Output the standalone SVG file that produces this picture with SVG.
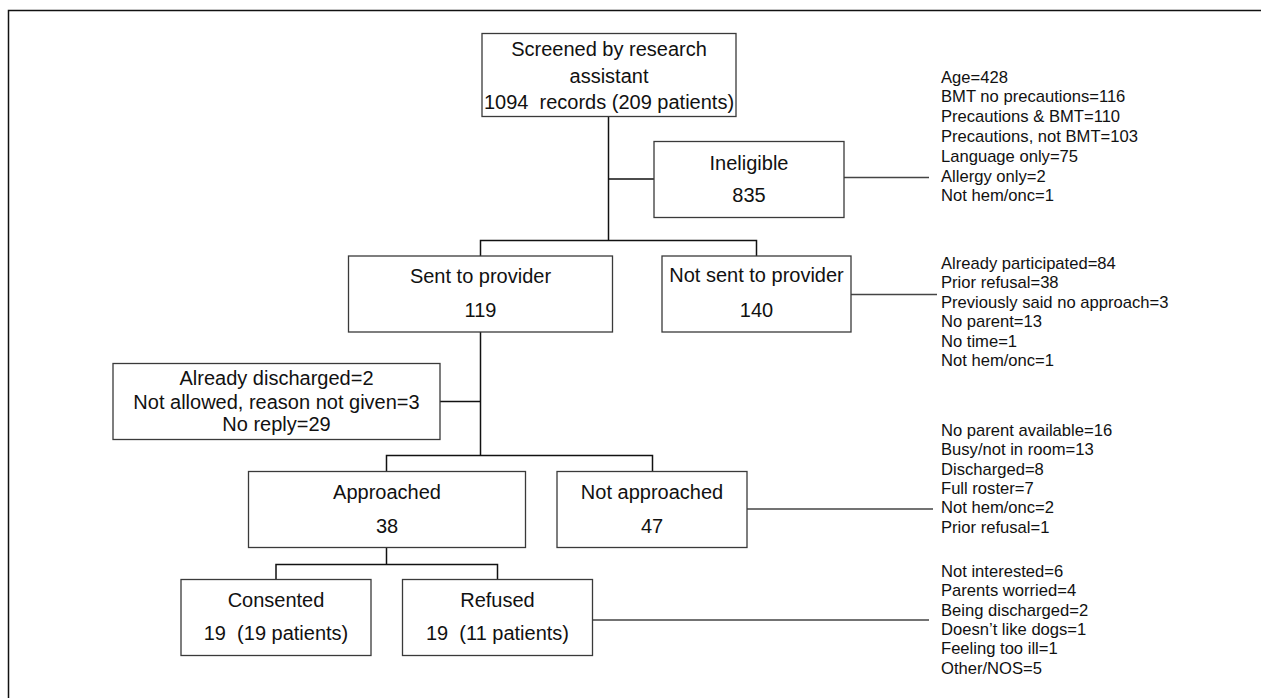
<svg xmlns="http://www.w3.org/2000/svg" width="1261" height="698" viewBox="0 0 1261 698">
<style>
.box{fill:#fff;stroke:#3a3a3a;stroke-width:1.3}
.t{font-family:"Liberation Sans",Arial,sans-serif;font-size:20px;fill:#111;text-anchor:middle;white-space:pre}
.l{font-family:"Liberation Sans",Arial,sans-serif;font-size:16.6px;fill:#111}
.c{fill:none;stroke:#111;stroke-width:1.5}
.s{fill:none;stroke:#444;stroke-width:1.3}
</style>
<rect width="1261" height="698" fill="#fff"/>
<path d="M8.5,698 V10.5 H1261" fill="none" stroke="#111" stroke-width="1.5"/>
<g id="connectors">
<path class="c" d="M608.5,116 V240.5"/>
<path class="c" d="M608.5,179 H654"/>
<path class="c" d="M480.5,256 V240.5 H756.5 V256"/>
<path class="c" d="M480.5,332 V455.5"/>
<path class="c" d="M440,401.5 H480.5"/>
<path class="c" d="M386.5,471.5 V455.5 H652.5 V471.5"/>
<path class="c" d="M386.5,547 V564.5"/>
<path class="c" d="M276,579 V564.5 H497.5 V579"/>
<path class="s" d="M844,177.5 H929"/>
<path class="s" d="M851,294.5 H937"/>
<path class="s" d="M747,509 H933"/>
<path class="s" d="M592,620 H929"/>
</g>
<g id="screened">
<rect class="box" x="482" y="33.5" width="254" height="83"/>
<text class="t" x="609" y="56">Screened by research</text>
<text class="t" x="609" y="83">assistant</text>
<text class="t" x="609" y="108.5" xml:space="preserve">1094  records (209 patients)</text>
</g>
<g id="ineligible">
<rect class="box" x="654" y="141.5" width="190" height="76"/>
<text class="t" x="749" y="169.5">Ineligible</text>
<text class="t" x="749" y="201.5">835</text>
</g>
<g id="ineligible-reasons">
<text class="l" x="941" y="82.5">Age=428</text>
<text class="l" x="941" y="102.3">BMT no precautions=116</text>
<text class="l" x="941" y="122.1">Precautions &amp; BMT=110</text>
<text class="l" x="941" y="141.9">Precautions, not BMT=103</text>
<text class="l" x="941" y="161.7">Language only=75</text>
<text class="l" x="941" y="181.5">Allergy only=2</text>
<text class="l" x="941" y="201.3">Not hem/onc=1</text>
</g>
<g id="sent">
<rect class="box" x="348.5" y="256" width="264" height="76"/>
<text class="t" x="480.5" y="283">Sent to provider</text>
<text class="t" x="480.5" y="316.5">119</text>
</g>
<g id="notsent">
<rect class="box" x="662" y="256" width="189" height="76"/>
<text class="t" x="756.5" y="282">Not sent to provider</text>
<text class="t" x="756.5" y="316.5">140</text>
</g>
<g id="notsent-reasons">
<text class="l" x="941" y="269">Already participated=84</text>
<text class="l" x="941" y="288.4">Prior refusal=38</text>
<text class="l" x="941" y="307.8">Previously said no approach=3</text>
<text class="l" x="941" y="327.2">No parent=13</text>
<text class="l" x="941" y="346.6">No time=1</text>
<text class="l" x="941" y="366">Not hem/onc=1</text>
</g>
<g id="noreply">
<rect class="box" x="113" y="363.5" width="327" height="76"/>
<text class="t" x="276.5" y="385">Already discharged=2</text>
<text class="t" x="276.5" y="408.5">Not allowed, reason not given=3</text>
<text class="t" x="276.5" y="431">No reply=29</text>
</g>
<g id="approached">
<rect class="box" x="248.5" y="471.5" width="277" height="76"/>
<text class="t" x="387" y="499">Approached</text>
<text class="t" x="387" y="532.5">38</text>
</g>
<g id="notapproached">
<rect class="box" x="557" y="471.5" width="190" height="76"/>
<text class="t" x="652" y="499">Not approached</text>
<text class="t" x="652" y="532.5">47</text>
</g>
<g id="notapproached-reasons">
<text class="l" x="941" y="435.7">No parent available=16</text>
<text class="l" x="941" y="455.1">Busy/not in room=13</text>
<text class="l" x="941" y="474.5">Discharged=8</text>
<text class="l" x="941" y="493.9">Full roster=7</text>
<text class="l" x="941" y="513.3">Not hem/onc=2</text>
<text class="l" x="941" y="532.7">Prior refusal=1</text>
</g>
<g id="consented">
<rect class="box" x="181" y="579.5" width="190" height="76"/>
<text class="t" x="276" y="606.5">Consented</text>
<text class="t" x="276" y="640" xml:space="preserve">19  (19 patients)</text>
</g>
<g id="refused">
<rect class="box" x="402.5" y="579.5" width="190" height="76"/>
<text class="t" x="497.5" y="606.5">Refused</text>
<text class="t" x="497.5" y="640" xml:space="preserve">19  (11 patients)</text>
</g>
<g id="refused-reasons">
<text class="l" x="941" y="576.7">Not interested=6</text>
<text class="l" x="941" y="596.1">Parents worried=4</text>
<text class="l" x="941" y="615.5">Being discharged=2</text>
<text class="l" x="941" y="634.9">Doesn’t like dogs=1</text>
<text class="l" x="941" y="654.3">Feeling too ill=1</text>
<text class="l" x="941" y="673.7">Other/NOS=5</text>
</g>
</svg>
